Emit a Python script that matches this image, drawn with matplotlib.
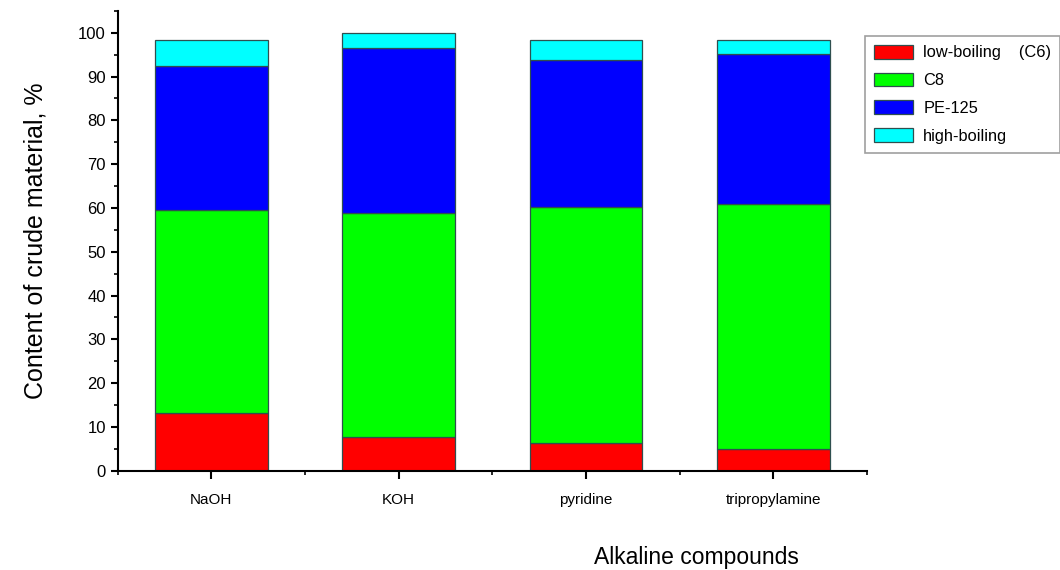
import numpy as np
import matplotlib
matplotlib.use("Agg")
import matplotlib.pyplot as plt
from matplotlib.ticker import MultipleLocator

plt.rcParams['font.family'] = ['Liberation Sans', 'DejaVu Sans']

compounds = ["NaOH", "KOH", "pyridine", "tripropylamine"]
low_boiling = [13.2, 7.8, 6.4, 5.0]
c8 = [46.4, 51.1, 53.9, 56.0]
pe125 = [32.9, 37.7, 33.5, 34.2]
high_boiling = [5.9, 3.4, 4.6, 3.2]

series = [low_boiling, c8, pe125, high_boiling]
labels = ["low-boiling    (C6)", "C8", "PE-125", "high-boiling"]
colors = ["#ff0000", "#00ff00", "#0000ff", "#00ffff"]

fig = plt.figure(figsize=(10.6, 5.7), dpi=100)
ax = fig.add_axes([0.111, 0.174, 0.707, 0.807])

x = np.arange(len(compounds))
bottom = np.zeros(len(compounds))
for vals, lab, col in zip(series, labels, colors):
    ax.bar(x, vals, width=0.6, bottom=bottom, color=col, edgecolor="#2f4f4f",
           linewidth=0.9, label=lab)
    bottom = bottom + np.array(vals)

ax.set_xlim(-0.5, 3.5)
ax.set_ylim(0, 105)
ax.set_xticks(x)
ax.set_xticklabels(compounds, fontsize=11)
ax.xaxis.set_minor_locator(MultipleLocator(0.5))
ax.set_yticks(np.arange(0, 101, 10))
ax.yaxis.set_minor_locator(MultipleLocator(5))
ax.tick_params(axis='y', labelsize=12, width=1.5, length=5)
ax.tick_params(axis='x', width=1.5, length=6, pad=10)
ax.tick_params(which='minor', length=3, width=1.2)

for side in ["top", "right"]:
    ax.spines[side].set_visible(False)
for side in ["left", "bottom"]:
    ax.spines[side].set_linewidth(1.5)

ax.set_ylabel("Content of crude material, %", fontsize=18, labelpad=22)
fig.text(0.657, 0.01, "Alkaline compounds", fontsize=16.5, ha="center")

leg = ax.legend(loc="upper left", bbox_to_anchor=(0.816, 0.937),
                bbox_transform=fig.transFigure, fontsize=11.8, frameon=True,
                fancybox=False, edgecolor="#888888", handlelength=2.4,
                handleheight=0.9, handletextpad=0.6, labelspacing=0.75,
                borderpad=0.55, borderaxespad=0)
leg.get_frame().set_linewidth(1.2)

fig.savefig("out.png", dpi=100)
